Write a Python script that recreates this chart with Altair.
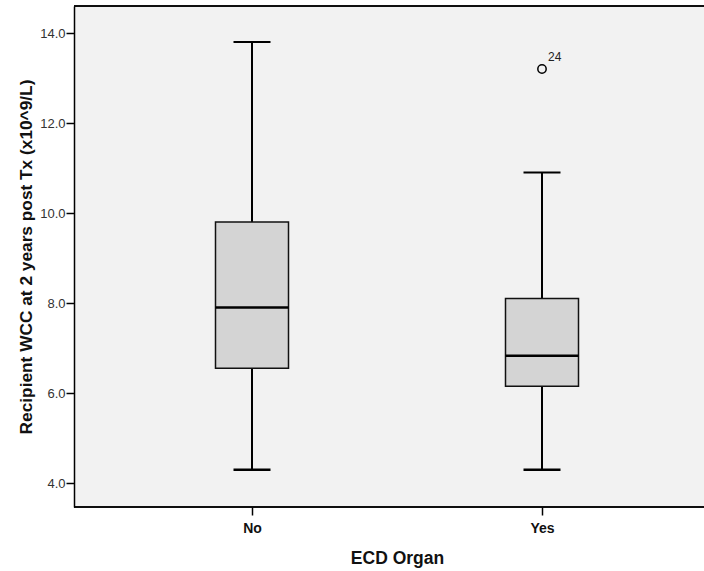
import altair as alt
import pandas as pd

categories = ["No", "Yes"]
whisker_low = [4.3, 4.3]
q1 = [6.55, 6.15]
median = [7.9, 6.83]
q3 = [9.8, 8.1]
whisker_high = [13.8, 10.9]

outlier_cat = ["Yes"]
outlier_val = [13.2]
outlier_label = ["24"]

box = pd.DataFrame({"cat": categories, "lo": whisker_low, "q1": q1,
                    "med": median, "q3": q3, "hi": whisker_high})
out = pd.DataFrame({"cat": outlier_cat, "val": outlier_val, "lab": outlier_label})

FONT = "Liberation Sans"

xscale = alt.Scale(type="point", padding=0, range=[178, 468])
xs = alt.X("cat:N", sort=categories, scale=xscale,
           axis=alt.Axis(title="ECD Organ", labelFont=FONT, labelFontWeight="bold",
                         labelFontSize=14, labelColor="#111", labelAngle=0,
                         titleFont=FONT, titleFontWeight="bold", titleFontSize=17.5,
                         titleColor="#111", domain=False,
                         tickColor="#000", tickSize=8, tickWidth=1.5,
                         labelPadding=6, titlePadding=14))
yscale = alt.Scale(domain=[3.47, 14.6], nice=False, zero=False)
yax = alt.Axis(title="Recipient WCC at 2 years post Tx (x10^9/L)", values=[4, 6, 8, 10, 12, 14],
               format=".1f", labelFont=FONT, labelFontSize=13, labelColor="#333",
               titleFont=FONT, titleFontWeight="bold", titleFontSize=17.3, titleColor="#111",
               domain=True, domainColor="#000", domainWidth=1.5,
               tickColor="#000", tickSize=8, tickWidth=1.5, grid=False,
               labelPadding=1, titlePadding=4)

base = alt.Chart(box).encode(x=xs)

whiskers_up = base.mark_rule(color="#000", strokeWidth=2).encode(
    y=alt.Y("q3:Q", scale=yscale, axis=yax), y2="hi:Q")
whiskers_dn = base.mark_rule(color="#000", strokeWidth=2).encode(
    y=alt.Y("lo:Q", scale=yscale), y2="q1:Q")
boxes = base.mark_bar(size=73, fill="#d4d4d4", stroke="#111", strokeWidth=1.5).encode(
    y=alt.Y("q1:Q", scale=yscale), y2="q3:Q")
medians = base.mark_tick(size=73, thickness=2.5, color="#000", opacity=1).encode(
    y=alt.Y("med:Q", scale=yscale))
cap_hi = base.mark_tick(size=37, thickness=2, color="#000", opacity=1).encode(
    y=alt.Y("hi:Q", scale=yscale))
cap_lo = base.mark_tick(size=37, thickness=2.5, color="#000", opacity=1).encode(
    y=alt.Y("lo:Q", scale=yscale))

ob = alt.Chart(out).encode(x=alt.X("cat:N", sort=categories, scale=xscale),
                           y=alt.Y("val:Q", scale=yscale))
pts = ob.mark_point(shape="circle", size=70, filled=False, color="#000", strokeWidth=1.5, opacity=1)
labs = ob.mark_text(align="left", dx=6, dy=-12, font=FONT, fontSize=12, color="#222").encode(text="lab:N")

top_line = alt.Chart(box).mark_rule(color="#000", strokeWidth=1.5).encode(
    y=alt.value(0), x=alt.value(0), x2=alt.value(640))
bottom_line = alt.Chart(box).mark_rule(color="#000", strokeWidth=1.5).encode(
    y=alt.value(501), x=alt.value(0), x2=alt.value(640))

chart = alt.layer(whiskers_up, whiskers_dn, boxes, medians, cap_hi, cap_lo, pts, labs,
                  top_line, bottom_line).properties(
    width=630, height=501,
    autosize=alt.AutoSizeParams(type="none"),
    padding={"left": 74, "top": 6, "right": 0, "bottom": 64},
    background="#ffffff",
).configure_view(fill="#f2f2f2", stroke=None)

chart.save("out.html", embed_options={"renderer": "svg", "actions": False})
